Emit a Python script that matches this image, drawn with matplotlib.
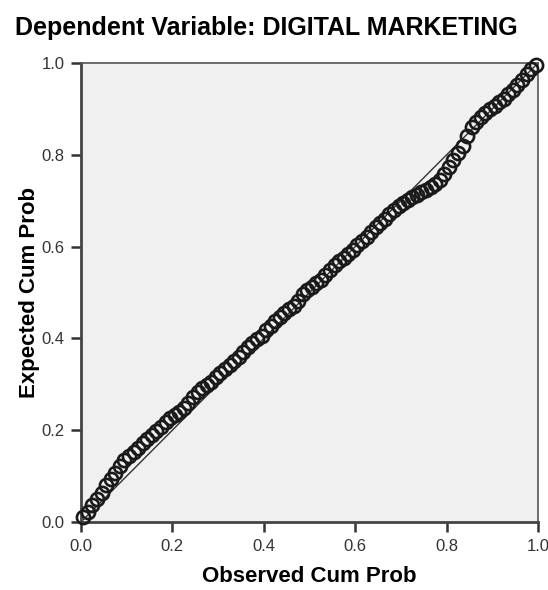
import matplotlib
matplotlib.use("Agg")
import matplotlib.pyplot as plt

##### Data #####
title = "Dependent Variable: DIGITAL MARKETING"
x_label = "Observed Cum Prob"
y_label = "Expected Cum Prob"
ticks = [0.0, 0.2, 0.4, 0.6, 0.8, 1.0]
tick_labels = ["0.0", "0.2", "0.4", "0.6", "0.8", "1.0"]

observed = [0.005, 0.015, 0.025, 0.035, 0.045, 0.055, 0.065, 0.075, 0.085, 0.095,
            0.105, 0.115, 0.125, 0.135, 0.145, 0.155, 0.165, 0.175, 0.185, 0.195,
            0.205, 0.215, 0.225, 0.235, 0.245, 0.255, 0.265, 0.275, 0.285, 0.295,
            0.305, 0.315, 0.325, 0.335, 0.345, 0.355, 0.365, 0.375, 0.385, 0.395,
            0.405, 0.415, 0.425, 0.435, 0.445, 0.455, 0.465, 0.475, 0.485, 0.495,
            0.505, 0.515, 0.525, 0.535, 0.545, 0.555, 0.565, 0.575, 0.585, 0.595,
            0.605, 0.615, 0.625, 0.635, 0.645, 0.655, 0.665, 0.675, 0.685, 0.695,
            0.705, 0.715, 0.725, 0.735, 0.745, 0.755, 0.765, 0.775, 0.785, 0.795,
            0.805, 0.815, 0.825, 0.835, 0.845, 0.855, 0.865, 0.875, 0.885, 0.895,
            0.905, 0.915, 0.925, 0.935, 0.945, 0.955, 0.965, 0.975, 0.985, 0.995]
expected = [0.010, 0.022, 0.036, 0.050, 0.064, 0.080, 0.094, 0.106, 0.122, 0.134,
            0.143, 0.152, 0.161, 0.172, 0.181, 0.189, 0.198, 0.207, 0.218, 0.226,
            0.233, 0.240, 0.249, 0.260, 0.272, 0.283, 0.292, 0.298, 0.306, 0.315,
            0.324, 0.333, 0.342, 0.351, 0.360, 0.370, 0.381, 0.390, 0.398, 0.406,
            0.418, 0.428, 0.437, 0.446, 0.455, 0.463, 0.471, 0.482, 0.496, 0.505,
            0.513, 0.520, 0.528, 0.538, 0.549, 0.560, 0.568, 0.575, 0.583, 0.593,
            0.603, 0.612, 0.621, 0.631, 0.642, 0.652, 0.661, 0.670, 0.680, 0.688,
            0.695, 0.702, 0.708, 0.713, 0.718, 0.723, 0.729, 0.737, 0.746, 0.758,
            0.774, 0.789, 0.804, 0.820, 0.840, 0.861, 0.872, 0.882, 0.891, 0.900,
            0.907, 0.914, 0.922, 0.932, 0.942, 0.953, 0.964, 0.976, 0.987, 0.996]
ref_line = [0.0, 1.0]

plt.rcParams['font.family'] = ['Liberation Sans', 'DejaVu Sans']

fig = plt.figure(figsize=(5.48, 5.90), dpi=100)
ax = fig.add_axes([81/548, 68/590, 457/548, 459/590])
ax.set_facecolor("#f0f0f0")

##### Reference diagonal and points #####
ax.plot(ref_line, ref_line, color="#333333", linewidth=1.0, zorder=2)
ax.plot(observed, expected, linestyle="none", marker="o", markersize=9.5,
        markerfacecolor="none", markeredgecolor="#1a1a1a", markeredgewidth=1.9,
        zorder=3, clip_on=False)

ax.set_xlim(0, 1)
ax.set_ylim(0, 1)
ax.set_xticks(ticks)
ax.set_yticks(ticks)
ax.set_xticklabels(tick_labels)
ax.set_yticklabels(tick_labels)
ax.tick_params(direction="out", length=7, width=1.8, color="#333333",
               labelsize=12, labelcolor="#333333", pad=5)

for side in ["left", "bottom"]:
    ax.spines[side].set_linewidth(2.0)
    ax.spines[side].set_color("#444444")
for side in ["top", "right"]:
    ax.spines[side].set_linewidth(1.2)
    ax.spines[side].set_color("#555555")

ax.set_xlabel(x_label, fontsize=16, fontweight="bold", labelpad=9)
ax.set_ylabel(y_label, fontsize=16, fontweight="bold", labelpad=1)

fig.text(15/548, 1 - 28/590, title, fontsize=18, fontweight="bold",
         ha="left", va="center")

fig.savefig("out.png", dpi=100)
